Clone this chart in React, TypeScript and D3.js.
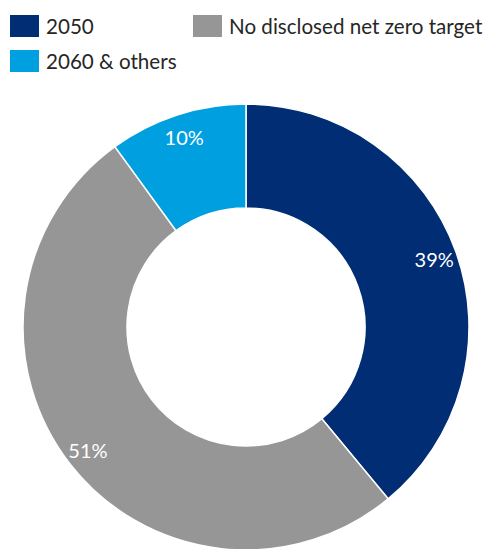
import React from "react";
import * as d3 from "d3";

const categories = ["2050", "No disclosed net zero target", "2060 & others"];
const values = [39, 51, 10];
const labels = ["39%", "51%", "10%"];
const colors = ["#002D74", "#969696", "#00A0E0"];

const W = 490;
const H = 549;
const cx = 246;
const cy = 327;
const rOuter = 223;
const rInner = 119;
const rLabel = 200;

export default function App() {
  const pie = d3
    .pie<number>()
    .sort(null)
    .startAngle(0)
    .endAngle(2 * Math.PI)
    .value((d) => d);
  const arcs = pie(values);
  const arc = d3.arc<d3.PieArcDatum<number>>().innerRadius(rInner).outerRadius(rOuter);
  const labelArc = d3.arc<d3.PieArcDatum<number>>().innerRadius(rLabel).outerRadius(rLabel);

  const legend = [
    { i: 0, x: 10, y: 15 },
    { i: 1, x: 193, y: 15 },
    { i: 2, x: 10, y: 50 },
  ];

  return (
    <svg
      width={W}
      height={H}
      style={{ position: "absolute", left: 0, top: 0, fontFamily: "Lato, 'Open Sans', sans-serif" }}
    >
      <rect width={W} height={H} fill="#ffffff" />
      <g transform={`translate(${cx},${cy})`}>
        {arcs.map((a, i) => (
          <path key={i} d={arc(a) || ""} fill={colors[i]} stroke="#ffffff" strokeWidth={1.5} />
        ))}
        {arcs.map((a, i) => {
          const [x, y] = labelArc.centroid(a);
          return (
            <text
              key={"l" + i}
              x={x}
              y={y}
              textAnchor="middle"
              dominantBaseline="central"
              fill="#ffffff"
              fontSize={20}
            >
              {labels[i]}
            </text>
          );
        })}
      </g>
      {legend.map((l) => (
        <g key={"lg" + l.i}>
          <rect x={l.x} y={l.y} width={29} height={22} fill={colors[l.i]} />
          <text x={l.x + 36} y={l.y + 11} dominantBaseline="central" fontSize={20.6} fill="#262626">
            {categories[l.i]}
          </text>
        </g>
      ))}
    </svg>
  );
}
